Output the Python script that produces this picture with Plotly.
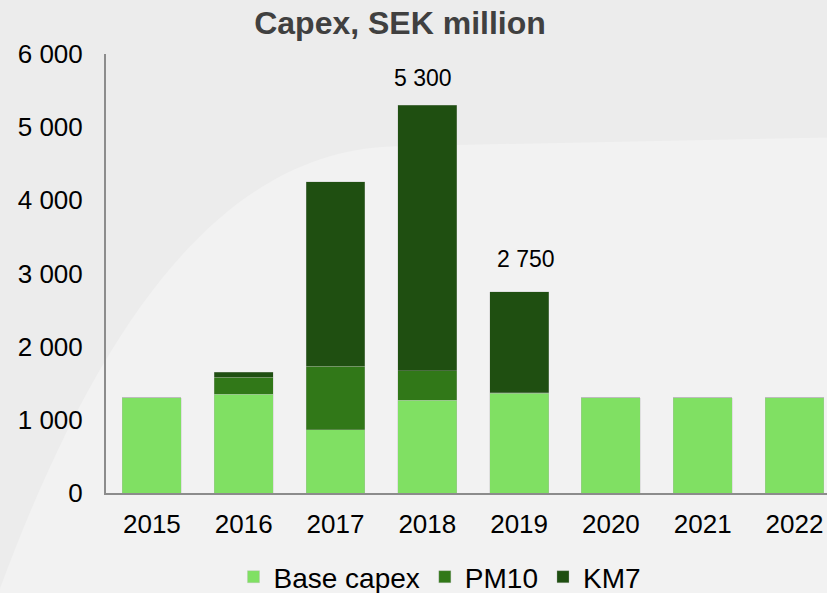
import plotly.graph_objects as go

years = ["2015", "2016", "2017", "2018", "2019", "2020", "2021", "2022"]
base_capex = [1300, 1350, 865, 1270, 1360, 1300, 1300, 1300]
pm10 = [0, 230, 870, 400, 10, 0, 0, 0]
km7 = [0, 70, 2520, 3630, 1380, 0, 0, 0]

label_years = ["2018", "2019"]
label_values = [5300, 2750]
label_texts = ["5 300", "2 750"]

y_tickvals = [0, 1000, 2000, 3000, 4000, 5000, 6000]
y_ticktext = ["0", "1 000", "2 000", "3 000", "4 000", "5 000", "6 000"]

colors = {"Base capex": "#80E063", "PM10": "#317818", "KM7": "#1F4F11"}
FONT = "Liberation Sans, Arial, sans-serif"

fig = go.Figure()
for name, vals in [("Base capex", base_capex), ("PM10", pm10), ("KM7", km7)]:
    fig.add_trace(go.Bar(
        x=years, y=vals, name=name,
        marker=dict(color=colors[name], line=dict(width=0.6, color="rgba(180,180,180,0.5)")),
    ))

for yr, v, t, xs, ys in zip(label_years, label_values, label_texts, [-4, 7], [27, 33]):
    fig.add_annotation(x=years.index(yr), y=v, text=t, showarrow=False, xshift=xs, yshift=ys,
                       xref="x", yref="y",
                       font=dict(family=FONT, size=23, color="#000000"))

# subtle background swoosh
fig.add_shape(type="path", xref="paper", yref="paper", layer="below",
              path="M -0.15,-0.23 C -0.02,0.35 0.15,0.78 0.4,0.79 L 1.0,0.81 L 1.0,-0.23 Z",
              fillcolor="rgba(255,255,255,0.3)", line=dict(width=0))

fig.update_layout(
    width=827, height=593,
    barmode="stack", bargap=0.358,
    paper_bgcolor="#ececec", plot_bgcolor="rgba(0,0,0,0)",
    margin=dict(l=106, r=0, t=54, b=100),
    title=dict(text="<b>Capex, SEK million</b>", x=400/827, xanchor="center",
               y=1 - 23/593, yanchor="middle",
               font=dict(family=FONT, size=32, color="#404040")),
    font=dict(family=FONT, color="#000000"),
    showlegend=True,
    legend=dict(orientation="h", x=440/827, xanchor="center", xref="container",
                y=1 - 577/593, yanchor="middle", yref="container",
                font=dict(family=FONT, size=28, color="#000000"),
                bgcolor="rgba(0,0,0,0)", traceorder="normal"),
    xaxis=dict(type="category", range=[-0.5, 7.354], showgrid=False, showline=True,
               linecolor="#8c8c8c", linewidth=2, ticks="",
               tickfont=dict(family=FONT, size=26, color="#000000"),
               ticklabelstandoff=7, fixedrange=True),
    yaxis=dict(range=[0, 6000], showgrid=False, showline=True, linecolor="#8c8c8c",
               linewidth=2, ticks="", tickvals=y_tickvals, ticktext=y_ticktext,
               tickfont=dict(family=FONT, size=26, color="#000000"),
               ticklabelstandoff=16, zeroline=False, fixedrange=True),
)

fig.write_html("out.html", config={"displayModeBar": False},
               post_script="document.body.style.margin='0';document.body.style.overflow='hidden';")
